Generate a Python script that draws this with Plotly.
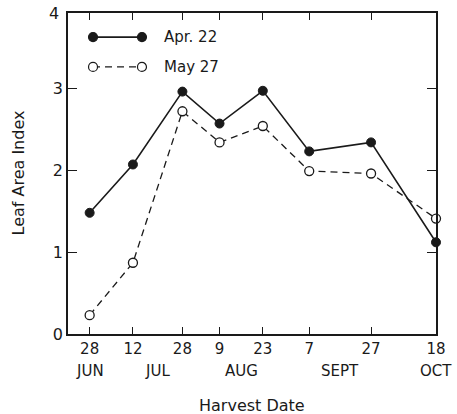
import plotly.graph_objects as go

dates = ["1975-06-28", "1975-07-12", "1975-07-28", "1975-08-09",
         "1975-08-23", "1975-09-07", "1975-09-27", "1975-10-18"]
day_labels = ["28", "12", "28", "9", "23", "7", "27", "18"]
apr22 = [1.48, 2.07, 2.96, 2.57, 2.97, 2.23, 2.34, 1.12]
may27 = [0.23, 0.87, 2.72, 2.34, 2.54, 1.99, 1.96, 1.41]
series_names = ["Apr. 22", "May 27"]
months = ["JUN", "JUL", "AUG", "SEPT", "OCT"]
month_pos = ["1975-06-28", "1975-07-20", "1975-08-16", "1975-09-17", "1975-10-18"]

FONT = "DejaVu Sans"
INK = "#1a1a1a"
DASH = "7px,5px"

fig = go.Figure()
fig.add_trace(go.Scatter(
    x=dates, y=apr22, name=series_names[0], mode="lines+markers",
    line=dict(color=INK, width=1.6),
    marker=dict(symbol="circle", size=9, color=INK, line=dict(color=INK, width=1)),
    cliponaxis=False, showlegend=False))
fig.add_trace(go.Scatter(
    x=dates, y=may27, name=series_names[1], mode="lines+markers",
    line=dict(color=INK, width=1.3, dash=DASH),
    marker=dict(symbol="circle", size=9, color="white", line=dict(color=INK, width=1.3)),
    cliponaxis=False, showlegend=False))

# month labels under the day ticks
for m, p in zip(months, month_pos):
    fig.add_annotation(x=p, y=0, xref="x", yref="paper", text=m, showarrow=False,
                       yshift=-37, font=dict(family=FONT, size=15, color=INK),
                       xanchor="center", yanchor="middle")

# axis titles
fig.add_annotation(x=0.5, y=0, xref="paper", yref="paper", text="Harvest Date",
                   showarrow=False, yshift=-71, xanchor="center", yanchor="middle",
                   font=dict(family=FONT, size=16, color=INK))
fig.add_annotation(x=0, y=0.5, xref="paper", yref="paper", text="Leaf Area Index",
                   showarrow=False, xshift=-50, textangle=-90, xanchor="center",
                   yanchor="middle", font=dict(family=FONT, size=16, color=INK))

# hand-drawn style legend (line with marker at both ends)
leg_rows = [0.925, 0.832]
lx0, lx1 = 0.068, 0.201
for i, (name, yy) in enumerate(zip(series_names, leg_rows)):
    fig.add_shape(type="line", xref="paper", yref="paper", x0=lx0, x1=lx1, y0=yy, y1=yy,
                  line=dict(color=INK, width=1.6 if i == 0 else 1.3,
                            dash="solid" if i == 0 else DASH))
    for xx in (lx0, lx1):
        fig.add_shape(type="circle", xref="paper", yref="paper",
                      xsizemode="pixel", ysizemode="pixel", xanchor=xx, yanchor=yy,
                      x0=-4.5, x1=4.5, y0=-4.5, y1=4.5,
                      fillcolor=INK if i == 0 else "white",
                      line=dict(color=INK, width=1.2))
    fig.add_annotation(x=0.255, y=yy, xref="paper", yref="paper", text=name, showarrow=False,
                       xanchor="left", yanchor="middle",
                       font=dict(family=FONT, size=15, color=INK))

fig.update_layout(
    width=457, height=414,
    margin=dict(l=68, r=21, t=13, b=80),
    paper_bgcolor="white", plot_bgcolor="white",
    font=dict(family=FONT, color=INK),
    showlegend=False,
    xaxis=dict(
        type="date", range=["1975-06-21", "1975-10-18"],
        tickvals=dates, ticktext=day_labels, automargin=False,
        ticks="inside", ticklen=7, tickwidth=1.2, tickcolor=INK,
        showline=True, linecolor=INK, linewidth=1.6, mirror="ticks",
        showgrid=False, zeroline=False,
        tickfont=dict(family=FONT, size=15, color=INK),
    ),
    yaxis=dict(
        range=[0, 3.92], tickvals=[0, 1, 2, 3], ticktext=["0", "1", "2", "3"],
        automargin=False,
        ticks="inside", ticklen=9, tickwidth=1.2, tickcolor=INK,
        showline=True, linecolor=INK, linewidth=1.6, mirror="ticks",
        showgrid=False, zeroline=False,
        tickfont=dict(family=FONT, size=16, color=INK),
    ),
)
fig.add_annotation(x=0, y=1, xref="paper", yref="paper", text="4", showarrow=False,
                   xshift=-14, font=dict(family=FONT, size=16, color=INK),
                   xanchor="center", yanchor="middle")

fig.write_html("out.html")
